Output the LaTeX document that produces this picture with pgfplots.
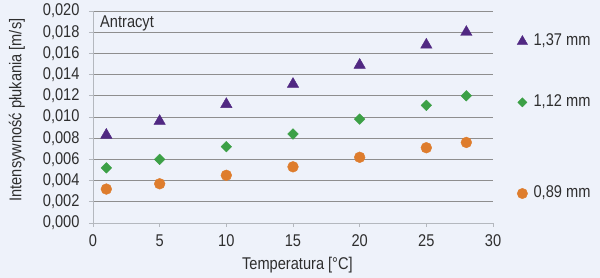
\documentclass[border=0pt]{standalone}
\usepackage{fontspec}
\setmainfont{Liberation Sans}[FakeStretch=0.86]
\usepackage{pgfplots}
\pgfplotsset{compat=1.18}

\definecolor{bg}{HTML}{EEF2FA}
\definecolor{txt}{HTML}{2E2E2E}
\definecolor{gridc}{HTML}{8E8E8E}
\definecolor{axisc}{HTML}{B4B8BE}
\definecolor{cPurple}{HTML}{502882}
\definecolor{cGreen}{HTML}{3CA046}
\definecolor{cOrange}{HTML}{DE7D2D}

\newcommand{\lbl}{\fontsize{17pt}{20pt}\selectfont}

\pgfplotsset{
  legimg/.style={only marks,
    legend image code/.code={%
      \draw[mark repeat=2,mark phase=2,##1]
        plot coordinates {(0pt,0pt)(5pt,0pt)(10pt,0pt)};}},
}

\begin{document}
\begin{tikzpicture}
\fill[bg] (0pt,0pt) rectangle (600pt,278pt);
\useasboundingbox (0pt,0pt) rectangle (600pt,278pt);
\begin{axis}[
  at={(93pt,55pt)}, anchor=south west,
  scale only axis, width=400pt, height=212pt,
  xmin=0, xmax=30, ymin=0, ymax=0.02,
  xtick={0,5,...,30},
  ytick={0,0.002,...,0.0201},
  scaled y ticks=false,
  axis x line*=bottom, axis y line*=left,
  axis line style={draw=axisc, line width=0.8pt},
  tick align=outside, major tick length=4pt,
  tick style={draw=axisc, line width=0.8pt},
  ymajorgrids,
  major grid style={draw=gridc, line width=0.8pt},
  ticklabel style={font=\lbl, text=txt},
  yticklabel style={xshift=-6pt, /pgf/number format/.cd, fixed, fixed zerofill,
    precision=3, use comma, assume math mode=true},
  xticklabel style={yshift=-4pt, /pgf/number format/assume math mode=true},
  xlabel={Temperatura [°C]},
  ylabel={Intensywność płukania [m/s]},
  every axis x label/.style={at={(axis description cs:0.511,-0.198)},
    anchor=center, font=\lbl, text=txt},
  every axis y label/.style={at={(axis description cs:-0.19,0.533)},
    rotate=90, anchor=center, font=\lbl, text=txt},
  legend style={at={(axis description cs:1.06,0.89)}, anchor=north west,
    draw=none, fill=none, font=\lbl, text=txt, row sep=16.4pt,
    inner sep=0pt,
    nodes={inner xsep=6pt, inner ysep=0pt, text height=11pt, text depth=3pt}},
  legend cell align=left,
  clip=false,
]
% legend rows (blank rows keep each entry level with its series)
\addlegendimage{legimg, mark=triangle*, color=cPurple, mark size=6pt}
\addlegendentry{1,37 mm}
\addlegendimage{empty legend}\addlegendentry{}
\addlegendimage{legimg, mark=diamond*, color=cGreen, mark size=4.6pt,
  mark options={xscale=1.33}}
\addlegendentry{1,12 mm}
\addlegendimage{empty legend}\addlegendentry{}
\addlegendimage{empty legend}\addlegendentry{}
\addlegendimage{legimg, mark=*, color=cOrange, mark size=5.2pt}
\addlegendentry{0,89 mm}

% 1,37 mm
\addplot[forget plot, only marks, mark=triangle*, color=cPurple, mark size=6.6pt]
  coordinates {(1,0.0083) (5,0.0096) (10,0.0112) (15,0.0131)
               (20,0.0149) (25,0.0168) (28,0.0180)};
% 1,12 mm
\addplot[forget plot, only marks, mark=diamond*, color=cGreen, mark size=5.3pt,
  mark options={xscale=1.33}]
  coordinates {(1,0.0052) (5,0.0060) (10,0.0072) (15,0.0084)
               (20,0.0098) (25,0.0111) (28,0.0120)};
% 0,89 mm
\addplot[forget plot, only marks, mark=*, color=cOrange, mark size=5.4pt]
  coordinates {(1,0.0032) (5,0.0037) (10,0.0045) (15,0.0053)
               (20,0.0062) (25,0.0071) (28,0.0076)};

\node[anchor=west, font=\lbl, text=txt, inner sep=0pt]
  at (axis description cs:0.0175,0.94) {Antracyt};
\end{axis}
\end{tikzpicture}
\end{document}
